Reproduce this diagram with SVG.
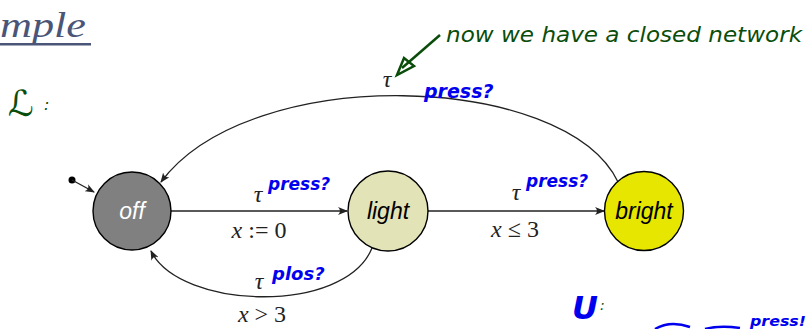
<svg xmlns="http://www.w3.org/2000/svg" width="810" height="329" viewBox="0 0 810 329">
<style>
.state{stroke:#000;stroke-width:1.4}
.lbl{font-family:"Liberation Sans","DejaVu Sans",sans-serif;font-style:italic;font-size:23px;text-anchor:middle}
.math{font-family:"Liberation Serif","DejaVu Serif",serif;font-size:24px;text-anchor:middle;fill:#222}
.mi{font-style:italic}
.edge{fill:none;stroke:#222;stroke-width:1.3}
.hand{font-family:"DejaVu Sans",sans-serif;font-weight:bold;font-style:italic;fill:#0000ee}
.green{font-family:"DejaVu Sans",sans-serif;font-style:italic;fill:#0a4d0a}
</style>
<defs>
<marker id="arr" viewBox="0 0 10 8" refX="9" refY="4" markerWidth="10" markerHeight="8" markerUnits="userSpaceOnUse" orient="auto">
<path d="M0,0 Q4,4 0,8 L10,4 Z" fill="#222"/>
</marker>
</defs>
<g id="title">
<text x="0" y="37" font-family="Liberation Serif,serif" font-style="italic" font-size="36" fill="#4a5578" textLength="86" lengthAdjust="spacingAndGlyphs">mple</text>
<rect x="0" y="43" width="91" height="2.5" fill="#4a5578"/>
</g>
<g id="automaton-label">
<text x="8" y="116" class="green" font-size="36">ℒ</text>
<text x="44" y="110" class="green" font-size="16">:</text>
</g>
<g id="connectors">
<circle cx="72" cy="180" r="3.5" fill="#000"/>
<path class="edge" d="M72,180 L94,192" marker-end="url(#arr)"/>
<path class="edge" d="M171,211 L347,211" marker-end="url(#arr)"/>
<path class="edge" d="M427,211 L604,211" marker-end="url(#arr)"/>
<path class="edge" d="M372,248 C345,315 180,310 151,251" marker-end="url(#arr)"/>
<path class="edge" d="M618,182 C565,72 250,62 161,182" marker-end="url(#arr)"/>
</g>
<g id="labels">
<text x="258" y="202" class="math mi">τ</text>
<text x="259" y="238" class="math"><tspan class="mi">x</tspan> := 0</text>
<text x="516" y="200" class="math mi">τ</text>
<text x="515" y="237" class="math"><tspan class="mi">x</tspan> ≤ 3</text>
<text x="259" y="289" class="math mi">τ</text>
<text x="262" y="322" class="math"><tspan class="mi">x</tspan> &gt; 3</text>
<text x="387" y="87" class="math mi">τ</text>
</g>
<g id="off">
<circle cx="132" cy="211" r="39" fill="#808080" class="state"/>
<text x="132" y="219" class="lbl" fill="#fff">off</text>
</g>
<g id="light">
<circle cx="388" cy="211" r="40" fill="#e3e3b8" class="state"/>
<text x="388" y="219" class="lbl" fill="#000">light</text>
</g>
<g id="bright">
<circle cx="644" cy="211" r="39.5" fill="#e6e600" class="state"/>
<text x="644" y="219" class="lbl" fill="#000">bright</text>
</g>
<g id="annotations">
<text x="424" y="98" class="hand" font-size="19">press?</text>
<text x="268" y="190" class="hand" font-size="17">press?</text>
<text x="526" y="187" class="hand" font-size="17">press?</text>
<text x="272" y="280" class="hand" font-size="18">plos?</text>
<text x="446" y="42" class="green" font-size="22" textLength="356" lengthAdjust="spacingAndGlyphs">now we have a closed network</text>
<path d="M440,35 L402,68" fill="none" stroke="#0a4d0a" stroke-width="2.5"/>
<path d="M397,75 L404,58 L414,66 Z" fill="none" stroke="#0a4d0a" stroke-width="2.5"/>
<text x="572" y="319" class="hand" font-size="32" fill="#0000ee">U</text>
<text x="600" y="310" class="green" font-size="14">:</text>
<path d="M655,329 Q670,320 690,327 M705,329 Q720,325 740,328" fill="none" stroke="#0000ee" stroke-width="2.5"/>
<text x="750" y="326" class="hand" font-size="14" textLength="56" lengthAdjust="spacingAndGlyphs">press!</text>
</g>
</svg>
